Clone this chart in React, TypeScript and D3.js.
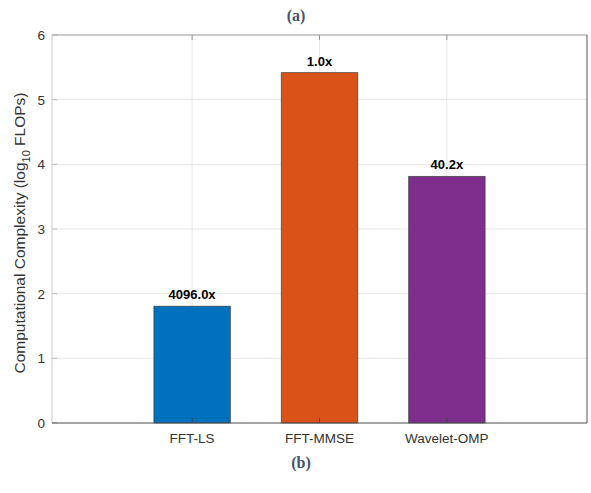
import React from "react";
import * as d3 from "d3";

const categories = ["FFT-LS", "FFT-MMSE", "Wavelet-OMP"];
const values = [1.806, 5.418, 3.814];
const labels = ["4096.0x", "1.0x", "40.2x"];
const colors = ["#0072BD", "#D95319", "#7E2F8E"];
const yTicks = [0, 1, 2, 3, 4, 5, 6];

export default function App() {
  const W = 591, H = 493;
  const left = 52, right = 587, top = 35, bottom = 423;
  const x = d3.scaleLinear().domain([-0.1, 4.1]).range([left, right]);
  const y = d3.scaleLinear().domain([0, 6]).range([bottom, top]);
  const bw = x(0.6) - x(0);
  const sans = "'Liberation Sans', Arial, Helvetica, sans-serif";
  const serif = "'Liberation Serif', 'Times New Roman', serif";
  return (
    <svg width={W} height={H} style={{ position: "absolute", left: 0, top: 0, background: "#fff" }}>
      <rect x={0} y={0} width={W} height={H} fill="#fff" />
      <text x={296} y={21} textAnchor="middle" fontFamily={serif} fontWeight="bold" fontSize={16} fill="#44546A">(a)</text>
      {yTicks.map((t) => (
        <line key={"gy" + t} x1={left} x2={right} y1={y(t)} y2={y(t)} stroke="#e6e6e6" strokeWidth={1} />
      ))}
      {categories.map((c, i) => (
        <line key={"gx" + c} x1={x(i + 1)} x2={x(i + 1)} y1={top} y2={bottom} stroke="#e6e6e6" strokeWidth={1} />
      ))}
      {categories.map((c, i) => (
        <rect key={"b" + c} x={x(i + 1) - bw / 2} y={y(values[i])} width={bw} height={bottom - y(values[i])}
          fill={colors[i]} stroke="#333" strokeOpacity={0.8} strokeWidth={0.8} />
      ))}
      {categories.map((c, i) => (
        <text key={"l" + c} x={x(i + 1)} y={y(values[i]) - 7} textAnchor="middle" fontFamily={sans}
          fontWeight="bold" fontSize={13} fill="#000">{labels[i]}</text>
      ))}
      {categories.map((c, i) => (
        <line key={"tx" + c} x1={x(i + 1)} x2={x(i + 1)} y1={bottom} y2={bottom - 5} stroke="#444" strokeWidth={1} />
      ))}
      {categories.map((c, i) => (
        <line key={"tt" + c} x1={x(i + 1)} x2={x(i + 1)} y1={top} y2={top + 5} stroke="#999" strokeWidth={1} />
      ))}
      {yTicks.map((t) => (
        <line key={"ty" + t} x1={left} x2={left + 5} y1={y(t)} y2={y(t)} stroke="#bbb" strokeWidth={1} />
      ))}
      <line x1={left} x2={right} y1={top} y2={top} stroke="#a0a0a0" strokeWidth={1} />
      <line x1={left} x2={left} y1={top} y2={bottom} stroke="#c8c8c8" strokeWidth={1} />
      <line x1={left} x2={right} y1={bottom} y2={bottom} stroke="#555" strokeWidth={1} />
      <line x1={right} x2={right} y1={top} y2={bottom} stroke="#555" strokeWidth={1} />
      {yTicks.map((t) => (
        <text key={"yl" + t} x={left - 7} y={y(t) + 5} textAnchor="end" fontFamily={sans} fontSize={13.5} fill="#333">{t}</text>
      ))}
      {categories.map((c, i) => (
        <text key={"xl" + c} x={x(i + 1)} y={443} textAnchor="middle" fontFamily={sans} fontSize={13.5} fill="#333">{c}</text>
      ))}
      <text transform={`translate(25,${(top + bottom) / 2 + 4}) rotate(-90)`} textAnchor="middle" fontFamily={sans} fontSize={15.5} fill="#333">
        Computational Complexity (log<tspan fontSize={11} dy={5}>10</tspan><tspan dy={-5}> FLOPs)</tspan>
      </text>
      <text x={301} y={468} textAnchor="middle" fontFamily={serif} fontWeight="bold" fontSize={16} fill="#44546A">(b)</text>
    </svg>
  );
}
